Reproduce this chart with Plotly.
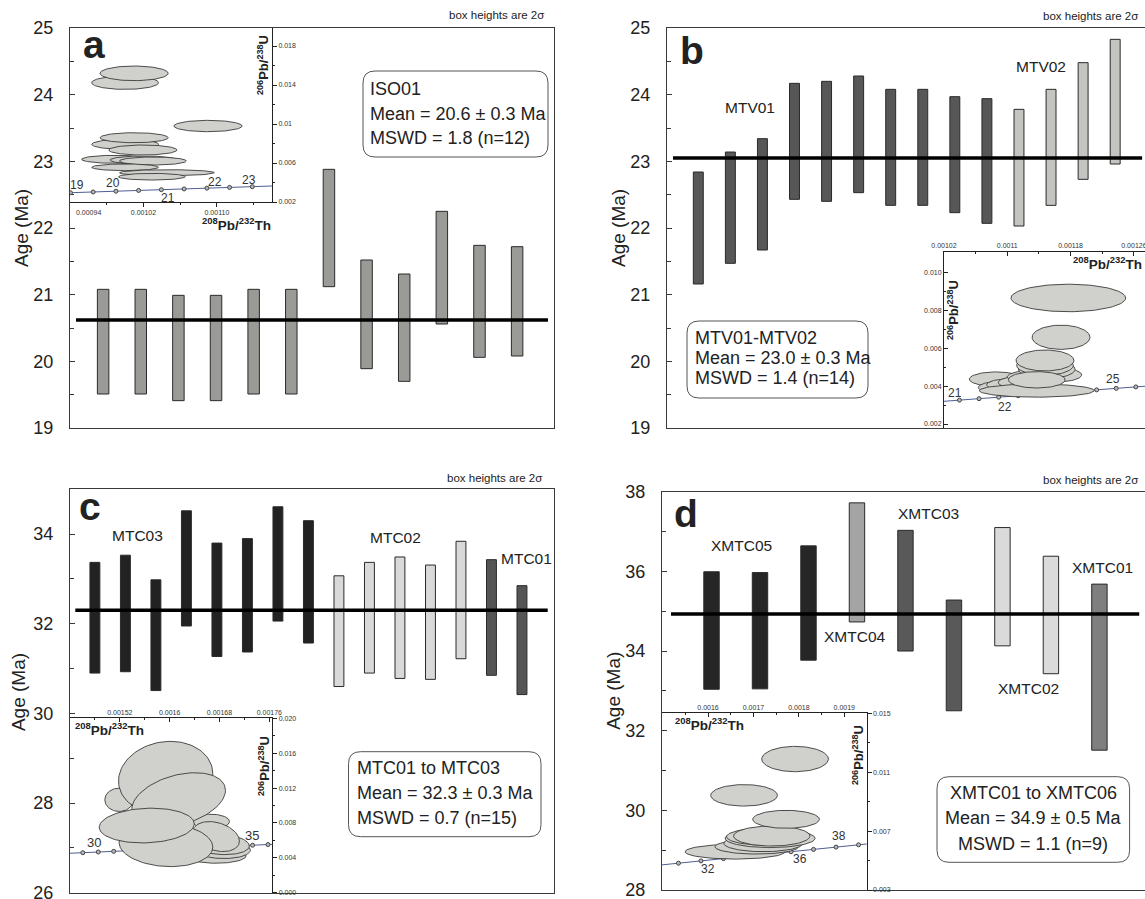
import numpy as np
import plotly.graph_objects as go

W, H = 1145, 899
FONT = "Arial, Liberation Sans, sans-serif"

# ---------------------------------------------------------------- data
# panel a : ISO01 (2-sigma box limits, Ma)
a_low = [19.51, 19.51, 19.41, 19.41, 19.51, 19.51, 21.12, 19.89, 19.70, 20.56, 20.06, 20.08]
a_high = [21.08, 21.08, 20.99, 20.99, 21.08, 21.08, 22.88, 21.52, 21.31, 22.25, 21.74, 21.72]
a_group = ["ISO01"] * 12
a_mean = 20.62
a_stats = ["ISO01", "Mean = 20.6 ± 0.3 Ma", "MSWD = 1.8 (n=12)"]

# panel b : MTV01-MTV02
b_low = [21.16, 21.47, 21.67, 22.43, 22.40, 22.53, 22.34, 22.34, 22.23, 22.07, 22.03, 22.34, 22.73, 22.96]
b_high = [22.84, 23.14, 23.34, 24.17, 24.20, 24.28, 24.08, 24.08, 23.97, 23.94, 23.78, 24.08, 24.48, 24.83]
b_group = ["MTV01"] * 10 + ["MTV02"] * 4
b_mean = 23.05
b_stats = ["MTV01-MTV02", "Mean = 23.0 ± 0.3 Ma", "MSWD = 1.4 (n=14)"]

# panel c : MTC01 to MTC03
c_low = [30.90, 30.93, 30.51, 31.95, 31.27, 31.37, 32.06, 31.57, 30.60, 30.90, 30.78, 30.76, 31.22, 30.85, 30.42]
c_high = [33.37, 33.53, 32.98, 34.52, 33.80, 33.90, 34.61, 34.30, 33.07, 33.37, 33.49, 33.31, 33.84, 33.43, 32.85]
c_group = ["MTC03"] * 8 + ["MTC02"] * 5 + ["MTC01"] * 2
c_mean = 32.30
c_stats = ["MTC01 to MTC03", "Mean = 32.3 ± 0.3 Ma", "MSWD = 0.7 (n=15)"]

# panel d : XMTC01 to XMTC06
d_low = [33.04, 33.05, 33.77, 34.73, 34.00, 32.50, 34.13, 33.43, 31.51]
d_high = [35.99, 35.97, 36.64, 37.72, 37.03, 35.28, 37.10, 36.38, 35.68]
d_group = ["XMTC05"] * 3 + ["XMTC04"] + ["XMTC03"] * 2 + ["XMTC02"] * 2 + ["XMTC01"]
d_mean = 34.93
d_stats = ["XMTC01 to XMTC06", "Mean = 34.9 ± 0.5 Ma", "MSWD = 1.1 (n=9)"]

# concordia (age Ma, 208Pb/232Th, 206Pb/238U)
conc_age = [18.5, 19, 19.5, 20, 20.5, 21, 21.5, 22, 22.5, 23, 23.5, 24, 24.5, 25, 25.5, 26,
            29, 29.5, 30, 30.5, 31, 31.5, 32, 32.5, 33, 33.5, 34, 34.5, 35, 35.5, 36, 36.5,
            37, 37.5, 38, 38.5, 39, 39.5, 40]
conc_x = [0.00091571, 0.00094047, 0.00096523, 0.00098999, 0.00101475, 0.00103951, 0.00106428,
          0.00108904, 0.00111381, 0.00113857, 0.00116334, 0.00118811, 0.00121287, 0.00123764,
          0.00126241, 0.00128718,
          0.00143580, 0.00146058, 0.00148535, 0.00151013, 0.00153490, 0.00155968, 0.00158445,
          0.00160923, 0.00163401, 0.00165879, 0.00168357, 0.00170834, 0.00173312, 0.00175791,
          0.00178269, 0.00180747, 0.00183225, 0.00185703, 0.00188182, 0.00190660, 0.00193139,
          0.00195617, 0.00198096]
conc_y = [0.00287393, 0.00295172, 0.00302952, 0.00310732, 0.00318513, 0.00326294, 0.00334076,
          0.00341858, 0.00349641, 0.00357425, 0.00365209, 0.00372994, 0.00380779, 0.00388566,
          0.00396353, 0.00404140,
          0.00450876, 0.00458667, 0.00466460, 0.00474252, 0.00482046, 0.00489840, 0.00497634,
          0.00505429, 0.00513225, 0.00521021, 0.00528818, 0.00536616, 0.00544414, 0.00552213,
          0.00560012, 0.00567812, 0.00575613, 0.00583414, 0.00591216, 0.00599018, 0.00606822,
          0.00614625, 0.00622429]

# error ellipses (centre x, centre y, half-width x, half-height y, correlation), back to front
ea_cx = [0.0010000, 0.0010098, 0.0010903, 0.0010000, 0.0010098, 0.0010193, 0.0009891, 0.0010200,
         0.0010303, 0.0010000, 0.0010455, 0.0010292]
ea_cy = [0.014236, 0.015199, 0.009795, 0.007918, 0.008595, 0.007333, 0.006379, 0.006308,
         0.006205, 0.005559, 0.005005, 0.004595]
ea_sx = [3.64e-5, 3.71e-5, 3.71e-5, 3.64e-5, 3.71e-5, 3.71e-5, 3.64e-5, 3.64e-5, 3.64e-5,
         3.64e-5, 5.16e-5, 3.64e-5]
ea_sy = [6.84e-4, 7.52e-4, 5.81e-4, 5.13e-4, 5.13e-4, 5.13e-4, 4.10e-4, 4.10e-4, 4.10e-4,
         3.42e-4, 3.08e-4, 3.42e-4]
ea_r = [0.0] * 12

eb_cx = [0.0010857, 0.0010908, 0.0011034, 0.0011202, 0.0011329, 0.0011603, 0.0011498, 0.0011476,
         0.0011372, 0.0011372, 0.0011476, 0.0011679, 0.0011771]
eb_cy = [0.004374, 0.003938, 0.004078, 0.004198, 0.004494, 0.004598, 0.004894, 0.005101,
         0.003766, 0.004338, 0.005361, 0.006587, 0.008665]
eb_sx = [3.37e-5, 2.74e-5, 2.95e-5, 3.16e-5, 3.29e-5, 3.37e-5, 3.58e-5, 3.58e-5,
         7.25e-5, 3.58e-5, 3.66e-5, 3.66e-5, 7.25e-5]
eb_sy = [3.81e-4, 3.12e-4, 3.12e-4, 3.46e-4, 3.46e-4, 3.81e-4, 4.85e-4, 5.20e-4,
         3.46e-4, 4.33e-4, 5.54e-4, 6.41e-4, 7.27e-4]
eb_r = [0.0] * 13

ec_cx = [0.0016667, 0.0016747, 0.0016827, 0.0016789, 0.0016747, 0.0015189, 0.0015936,
         0.0016144, 0.0015941, 0.0015632]
ec_cy = [0.008161, 0.004218, 0.004988, 0.005598, 0.006437, 0.010655, 0.013218,
         0.010655, 0.005483, 0.007701]
ec_sx = [2.93e-5, 4.80e-5, 4.69e-5, 4.91e-5, 3.73e-5, 2.30e-5, 7.57e-5, 7.52e-5, 7.52e-5, 7.63e-5]
ec_sy = [8.4e-4, 8.4e-4, 1.07e-3, 1.23e-3, 1.72e-3, 1.34e-3, 4.138e-3, 3.103e-3, 2.49e-3, 1.992e-3]
ec_r = [0.0, 0.0, -0.1, -0.2, -0.3, 0.0, 0.1, 0.35, -0.1, 0.1]

ed_cx = [0.0016595, 0.0017073, 0.0017218, 0.0017366, 0.0017218, 0.0017403, 0.0017718,
         0.0016793, 0.0017916]
ed_cy = [0.005600, 0.005940, 0.006170, 0.006510, 0.006620, 0.006666, 0.007800, 0.009429, 0.011894]
ed_sx = [1.10e-4, 9.2e-5, 8.7e-5, 9.9e-5, 8.1e-5, 8.4e-5, 7.34e-5, 7.34e-5, 7.34e-5]
ed_sy = [5.0e-4, 5.0e-4, 5.7e-4, 6.3e-4, 5.7e-4, 6.8e-4, 6.1e-4, 7.3e-4, 8.6e-4]
ed_r = [0.0] * 9

# ---------------------------------------------------------------- styles
COL = {"ISO01": "#9a9a96", "MTV01": "#575757", "MTV02": "#c4c4c0",
       "MTC03": "#222222", "MTC02": "#d9d9d9", "MTC01": "#555555",
       "XMTC05": "#262626", "XMTC04": "#a4a4a4", "XMTC03": "#595959",
       "XMTC02": "#dadada", "XMTC01": "#7f7f7f"}

fig = go.Figure()


def add_bars(low, high, group, width, xa, ya):
    idx = list(range(1, len(low) + 1))
    fig.add_trace(go.Bar(
        x=idx, y=[h - l for l, h in zip(low, high)], base=low, width=width,
        marker=dict(color=[COL[g] for g in group], line=dict(color="#2a2a2a", width=1)),
        xaxis=xa, yaxis=ya, showlegend=False, hoverinfo="skip"))


def add_ellipses(cx, cy, sx, sy, rr, xa, ya):
    t = np.linspace(0, 2 * np.pi, 100)
    for i in range(len(cx)):
        x = cx[i] + sx[i] * np.cos(t)
        y = cy[i] + sy[i] * (rr[i] * np.cos(t) + np.sqrt(1 - rr[i] ** 2) * np.sin(t))
        fig.add_trace(go.Scatter(
            x=x, y=y, mode="lines", fill="toself", fillcolor="#d0d0cc",
            line=dict(color="#3a3a3a", width=0.9), xaxis=xa, yaxis=ya,
            showlegend=False, hoverinfo="skip"))


def add_concordia(lo, hi, step, xa, ya):
    sel = [i for i, a in enumerate(conc_age) if lo <= a <= hi]
    fig.add_trace(go.Scatter(
        x=[conc_x[i] for i in sel], y=[conc_y[i] for i in sel], mode="lines",
        line=dict(color="#4d5f92", width=1), xaxis=xa, yaxis=ya,
        showlegend=False, hoverinfo="skip"))
    mk = [i for i in sel if (conc_age[i] / step) == int(conc_age[i] / step)]
    fig.add_trace(go.Scatter(
        x=[conc_x[i] for i in mk], y=[conc_y[i] for i in mk], mode="markers",
        marker=dict(size=4, color="#b8b8b8", line=dict(color="#444", width=1)),
        xaxis=xa, yaxis=ya, showlegend=False, hoverinfo="skip"))


add_bars(a_low, a_high, a_group, 0.305, "x", "y")
add_bars(b_low, b_high, b_group, 0.31, "x2", "y2")
add_bars(c_low, c_high, c_group, 0.325, "x3", "y3")
add_bars(d_low, d_high, d_group, 0.318, "x4", "y4")

add_concordia(18.5, 24.5, 0.5, "x5", "y5")
add_ellipses(ea_cx, ea_cy, ea_sx, ea_sy, ea_r, "x5", "y5")
add_concordia(20.5, 26, 0.5, "x6", "y6")
add_ellipses(eb_cx, eb_cy, eb_sx, eb_sy, eb_r, "x6", "y6")
add_concordia(29, 36, 0.5, "x7", "y7")
add_ellipses(ec_cx, ec_cy, ec_sx, ec_sy, ec_r, "x7", "y7")
add_concordia(30, 40, 1, "x8", "y8")
add_ellipses(ed_cx, ed_cy, ed_sx, ed_sy, ed_r, "x8", "y8")


def fx(p):
    return p / W


def fy(p):
    return 1 - p / H


LC = "#3a3a3a"


def main_x(dom, rng, anchor, mirror):
    return dict(domain=dom, range=rng, anchor=anchor, showline=True, mirror=mirror,
                linecolor=LC, linewidth=1, showticklabels=False, ticks="",
                showgrid=False, zeroline=False, automargin=False)


def main_y(dom, rng, anchor, t0, dt, mirror):
    return dict(domain=dom, range=rng, anchor=anchor, showline=True, mirror=mirror,
                linecolor=LC, linewidth=1, ticks="inside", ticklen=5, tickcolor=LC,
                tick0=t0, dtick=dt,
                minor=dict(ticks="inside", ticklen=4, tickcolor=LC, tick0=t0, dtick=dt / 2),
                tickfont=dict(family=FONT, size=18, color="#222"), ticklabelstandoff=12,
                ticklabeloverflow="allow",
                showgrid=False, zeroline=False, automargin=False)


TF = dict(family=FONT, size=7, color="#333")


def ins_axis(dom, rng, anchor, side, ticks, vals, texts, minor_vals):
    return dict(domain=dom, range=rng, anchor=anchor, side=side, showline=True,
                linecolor="#222", linewidth=1, ticks=ticks, ticklen=4, tickcolor="#222",
                tickvals=vals, ticktext=texts, tickfont=TF, ticklabeloverflow="allow",
                minor=dict(ticks=ticks, ticklen=2, tickcolor="#222", tickvals=minor_vals),
                showgrid=False, zeroline=False, automargin=False)


layout = dict(
    width=W, height=H, margin=dict(l=0, r=0, t=0, b=0, autoexpand=False),
    paper_bgcolor="white", plot_bgcolor="rgba(0,0,0,0)", barmode="overlay",
    showlegend=False, font=dict(family=FONT),
    xaxis=main_x([fx(70), fx(554)], [0.12, 12.98], "y", True),
    yaxis=main_y([fy(428), fy(28)], [19, 25], "x", 19, 1, True),
    xaxis2=main_x([fx(667), 1], [0.024, 14.93], "y2", True),
    yaxis2=main_y([fy(428), fy(28)], [19, 25], "x2", 19, 1, False),
    xaxis3=main_x([fx(70), fx(554)], [0.184, 16.05], "y3", True),
    yaxis3=main_y([fy(892.7), fy(489.3)], [26, 35], "x3", 26, 2, True),
    xaxis4=main_x([fx(662), 1], [-0.021, 9.94], "y4", True),
    yaxis4=main_y([fy(890), fy(491.7)], [28, 38], "x4", 28, 2, False),
    # inset a
    xaxis5=ins_axis([fx(70), fx(272)], [0.00094, 0.00116], "y5", "bottom", "outside",
                    [0.00102, 0.00110], ["0.00102", "0.00110"], [0.00098, 0.00106, 0.00114]),
    yaxis5=ins_axis([fy(202), fy(28)], [0.002, 0.01985], "x5", "right", "outside",
                    [0.002, 0.006, 0.01, 0.014, 0.018], ["0.002", "0.006", "0.01", "0.014", "0.018"],
                    [0.004, 0.008, 0.012, 0.016]),
    # inset b
    xaxis6=ins_axis([fx(944), 1], [0.00102, 0.001274], "y6", "top", "inside",
                    [0.00102, 0.0011, 0.00118, 0.00126], ["0.00102", "0.0011", "0.00118", "0.00126"],
                    [0.00106, 0.00114, 0.00122]),
    yaxis6=ins_axis([fy(428), fy(252)], [0.00179, 0.011095], "x6", "left", "inside",
                    [0.002, 0.004, 0.006, 0.008, 0.010], ["0.002", "0.004", "0.006", "0.008", "0.010"],
                    [0.003, 0.005, 0.007, 0.009]),
    # inset c
    xaxis7=ins_axis([fx(70), fx(272.3)], [0.00144, 0.0017648], "y7", "top", "inside",
                    [0.00152, 0.0016, 0.00168, 0.00176], ["0.00152", "0.0016", "0.00168", "0.00176"],
                    [0.00148, 0.00156, 0.00164, 0.00172]),
    yaxis7=ins_axis([fy(892.7), fy(718.3)], [0.0, 0.020], "x7", "right", "outside",
                    [0.0, 0.004, 0.008, 0.012, 0.016, 0.020],
                    ["0.000", "0.004", "0.008", "0.012", "0.016", "0.020"],
                    [0.002, 0.006, 0.010, 0.014, 0.018]),
    # inset d
    xaxis8=ins_axis([fx(661.7), fx(866.7)], [0.001498, 0.0019493], "y8", "top", "inside",
                    [0.0016, 0.0017, 0.0018, 0.0019], ["0.0016", "0.0017", "0.0018", "0.0019"],
                    [0.00155, 0.00165, 0.00175, 0.00185]),
    yaxis8=ins_axis([fy(890), fy(713.3)], [0.003, 0.015], "x8", "right", "outside",
                    [0.003, 0.007, 0.011, 0.015], ["0.003", "0.007", "0.011", "0.015"],
                    [0.005, 0.009, 0.013]),
)
fig.update_layout(**layout)

# ---------------------------------------------------------------- shapes
shapes = []
for ax, m, x0, x1 in (("", a_mean, 0.0124, 0.9876), ("2", b_mean, 0.0126, 0.994),
                      ("3", c_mean, 0.011, 0.987), ("4", d_mean, 0.0186, 0.988)):
    shapes.append(dict(type="line", xref="x%s domain" % ax, yref="y%s" % ax,
                       x0=x0, x1=x1, y0=m, y1=m, layer="above",
                       line=dict(color="black", width=3.5)))


def rbox(x0, y0, x1, y1, r=12):
    X0, X1, Y0, Y1 = fx(x0), fx(x1), fy(y0), fy(y1)
    rx, ry = r / W, r / H
    p = (f"M {X0+rx},{Y0} L {X1-rx},{Y0} Q {X1},{Y0} {X1},{Y0-ry} L {X1},{Y1+ry} "
         f"Q {X1},{Y1} {X1-rx},{Y1} L {X0+rx},{Y1} Q {X0},{Y1} {X0},{Y1+ry} "
         f"L {X0},{Y0-ry} Q {X0},{Y0} {X0+rx},{Y0} Z")
    return dict(type="path", path=p, xref="paper", yref="paper",
                line=dict(color="#555", width=1), fillcolor="rgba(255,255,255,0)", layer="above")


shapes += [rbox(363, 71, 548, 157), rbox(687, 321, 868, 398),
           rbox(348.5, 751.7, 541, 836.7), rbox(937, 776.7, 1129.6, 862.3)]
fig.update_layout(shapes=shapes)

# ---------------------------------------------------------------- text
ann = []


def T(text, x, y, size, xa="center", ya="middle", angle=0, color="#222"):
    ann.append(dict(text=text, x=fx(x), y=fy(y), xref="paper", yref="paper",
                    xanchor=xa, yanchor=ya, textangle=angle, showarrow=False,
                    font=dict(family=FONT, size=size, color=color)))


def C(label_age, xa, ya, dx, dy, size=12):
    i = conc_age.index(label_age)
    ann.append(dict(text=str(int(label_age)), x=conc_x[i], y=conc_y[i], xref=xa, yref=ya,
                    xshift=dx, yshift=dy, showarrow=False,
                    font=dict(family=FONT, size=size, color="#333")))


# panel letters
T("<b>a</b>", 94.3, 44, 39)
T("<b>b</b>", 692, 50.3, 39)
T("<b>c</b>", 90, 506, 39)
T("<b>d</b>", 685.8, 513.3, 39)

# box heights
for x, y in ((546, 15), (1140, 15.7), (544, 478.3), (1140, 480)):
    T("box heights are 2σ", x, y, 11.5, xa="right")

# Age axis titles
for x, y in ((21, 228), (618, 228), (18.4, 691.7), (614, 690.8)):
    T("Age (Ma)", x, y, 19, angle=-90)

# sample labels
T("MTV01", 750, 107, 15.5)
T("MTV02", 1040.6, 66, 15.5)
T("MTC03", 137, 535, 15.5)
T("MTC02", 395, 537, 15.5)
T("MTC01", 526.5, 558, 15.5)
T("XMTC05", 741, 545.7, 15.5)
T("XMTC04", 855, 636, 15.5)
T("XMTC03", 928.5, 513.3, 15.5)
T("XMTC02", 1028.8, 688.3, 15.5)
T("XMTC01", 1102.4, 567.7, 15.5)

# statistics boxes
for i, yy in enumerate((89.3, 114, 138.3)):
    T(a_stats[i], 367.6, yy, 18, xa="left")
for i, yy in enumerate((337.7, 358.3, 378.3)):
    T(b_stats[i], 693.2, yy, 18, xa="left")
for i, yy in enumerate((768.3, 793.3, 818.3)):
    T(c_stats[i], 354.8, yy, 18, xa="left")
for i, yy in enumerate((793.3, 818.3, 844.3)):
    T(d_stats[i], 1033.3, yy, 18)

# inset axis titles
XT = "<b><sup>208</sup>Pb/<sup>232</sup>Th</b>"
YT = "<b><sup>206</sup>Pb/<sup>238</sup>U</b>"
T(XT, 236, 224, 13.5)
T(XT, 1107, 263, 13.5)
T(XT, 109, 729, 13.5)
T(XT, 709, 724, 13.5)
T(YT, 263, 65, 13, angle=-90)
T(YT, 953, 310, 13, angle=-90)
T(YT, 264, 766, 13, angle=-90)
T(YT, 858, 755, 13, angle=-90)
T("0.00094", 88, 212, 7, color="#333")

# concordia age labels
C(19, "x5", "y5", 7, 8)
C(20, "x5", "y5", -3, 8)
C(21, "x5", "y5", 7, -8)
C(22, "x5", "y5", 8, 6)
C(23, "x5", "y5", -3, 7)
C(21, "x6", "y6", -4, 7)
C(22, "x6", "y6", 6, -10)
C(25, "x6", "y6", -3, 9)
C(30, "x7", "y7", -4, 10, 13)
C(35, "x7", "y7", -1, 10, 13)
C(32, "x8", "y8", 7, -8)
C(36, "x8", "y8", 9, -7)
C(38, "x8", "y8", 3, 11)

fig.update_layout(annotations=ann)
fig.write_html("out.html", config={"displayModeBar": False},
               post_script="document.body.style.margin='0';document.body.style.overflow='hidden';")
